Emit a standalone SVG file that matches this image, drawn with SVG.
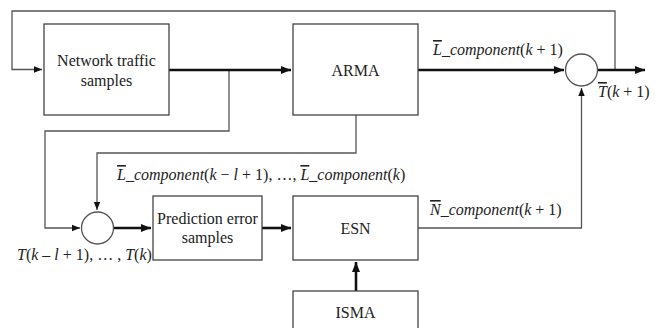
<svg xmlns="http://www.w3.org/2000/svg" width="657" height="328" viewBox="0 0 657 328">
<defs>
<marker id="ah" viewBox="0 0 10 10" refX="10" refY="5" markerWidth="8" markerHeight="8" markerUnits="userSpaceOnUse" orient="auto"><path d="M0,1 L10,5 L0,9 Z" fill="#111"/></marker>
<marker id="ahb" viewBox="0 0 10 10" refX="10" refY="5" markerWidth="10" markerHeight="10" markerUnits="userSpaceOnUse" orient="auto"><path d="M0,1 L10,5 L0,9 Z" fill="#111"/></marker>
</defs>
<style>
.box{fill:#fff;stroke:#444;stroke-width:1.3}
.thin{fill:none;stroke:#555;stroke-width:1.3}
.thick{fill:none;stroke:#111;stroke-width:2.6}
text{font-family:'Liberation Serif','Times New Roman',serif;fill:#222}
.n{font-size:16px;text-anchor:middle}
.lbl{font-size:16px}
.i{font-style:italic}
.ov{text-decoration:overline}
</style>
<g id="connectors">
<path class="thin" d="M615,70 V11 H12 V69.5 H42" marker-end="url(#ah)"/>
<path class="thin" d="M229,70 V131 H45 V228 H80" marker-end="url(#ah)"/>
<path class="thin" d="M356,115 V153 H97 V210" marker-end="url(#ah)"/>
<path class="thin" d="M418,228 H581.5 V88" marker-end="url(#ah)"/>
<path class="thick" d="M169,70 H291" marker-end="url(#ahb)"/>
<path class="thick" d="M113,228 H151" marker-end="url(#ahb)"/>
<path class="thick" d="M262,228 H291" marker-end="url(#ahb)"/>
<path class="thick" d="M418,70 H564" marker-end="url(#ahb)"/>
<path class="thick" d="M597,70 H645" marker-end="url(#ahb)"/>
<path class="thick" d="M356,291 V262" marker-end="url(#ahb)"/>
</g>
<g id="network-traffic">
<rect class="box" x="44" y="24" width="125" height="91"/>
<text class="n" x="106.5" y="66">Network traffic</text>
<text class="n" x="106.5" y="86">samples</text>
</g>
<g id="arma">
<rect class="box" x="293" y="24" width="125" height="91"/>
<text class="n" x="355.5" y="76">ARMA</text>
</g>
<g id="sum1">
<circle class="thin" cx="97.5" cy="228" r="16"/>
</g>
<g id="prediction-error">
<rect class="box" x="153" y="196" width="109" height="64"/>
<text class="n" x="207.5" y="224">Prediction error</text>
<text class="n" x="207.5" y="243">samples</text>
</g>
<g id="esn">
<rect class="box" x="293" y="196" width="125" height="64"/>
<text class="n" x="355.5" y="234">ESN</text>
</g>
<g id="isma">
<rect class="box" x="293" y="291" width="125" height="45"/>
<text class="n" x="355.5" y="318">ISMA</text>
</g>
<g id="sum2">
<circle class="thin" cx="581.5" cy="70" r="16"/>
</g>
<g id="labels">
<text class="lbl" x="433" y="55"><tspan class="i ov">L</tspan><tspan class="i">_component</tspan>(<tspan class="i">k</tspan> + 1)</text>
<text class="lbl" x="598" y="97"><tspan class="i ov">T</tspan>(<tspan class="i">k</tspan> + 1)</text>
<text class="lbl" x="117" y="180"><tspan class="i ov">L</tspan><tspan class="i">_component</tspan>(<tspan class="i">k</tspan> &#8722; <tspan class="i">l</tspan> + 1), &#8230;, <tspan class="i ov">L</tspan><tspan class="i">_component</tspan>(<tspan class="i">k</tspan>)</text>
<text class="lbl" x="17" y="260"><tspan class="i">T</tspan>(<tspan class="i">k</tspan> &#8211; <tspan class="i">l</tspan> + 1), &#8230; , <tspan class="i">T</tspan>(<tspan class="i">k</tspan>)</text>
<text class="lbl" x="430" y="215"><tspan class="i ov">N</tspan><tspan class="i">_component</tspan>(<tspan class="i">k</tspan> + 1)</text>
</g>
</svg>
